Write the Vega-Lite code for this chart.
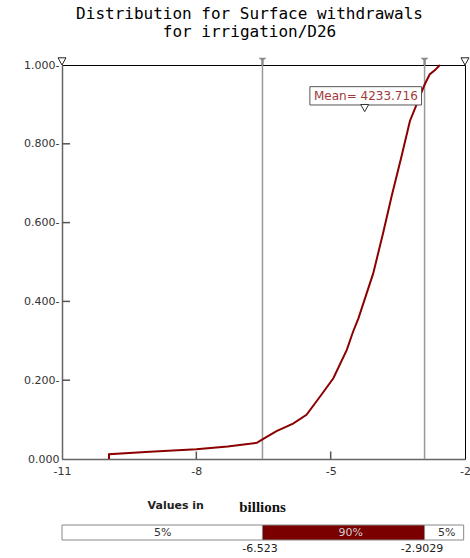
{
  "$schema": "https://vega.github.io/schema/vega-lite/v6.json",
  "padding": {"left": 23, "top": 5, "right": 0, "bottom": 4},
  "bounds": "flush",
  "spacing": 66,
  "config": {"view": {"stroke": "black", "strokeWidth": 1}, "font": "DejaVu Sans"},
  "vconcat": [
    {
      "width": 403,
      "height": 394,
      "title": {
        "text": ["Distribution for Surface withdrawals", "for irrigation/D26"],
        "font": "DejaVu Sans Mono",
        "fontSize": 16,
        "fontWeight": "normal",
        "color": "black",
        "anchor": "middle",
        "frame": "group",
        "dx": -14,
        "offset": 16,
        "lineHeight": 18
      },
      "layer": [
        {
          "data": {"values": [{"v": -6.523}, {"v": -2.9029}]},
          "mark": {"type": "rule", "color": "#9a9a9a", "strokeWidth": 1.5},
          "encoding": {
            "x": {"field": "v", "type": "quantitative", "scale": {"domain": [-11, -2], "nice": false, "zero": false},
              "axis": {
                "values": [-11, -8, -5, -2],
                "labelExpr": "datum.value < 0 ? '-' + abs(datum.value) : datum.label",
                "labelFont": "DejaVu Sans", "labelFontSize": 11, "labelColor": "#333",
                "labelFlush": false, "labelPadding": 6,
                "ticks": false, "domainColor": "#666", "domainWidth": 1.5,
                "grid": false, "title": null
              }
            }
          }
        },
        {
          "data": {"values": [{"v": -8, "a": 0, "b": 0.019}, {"v": -5, "a": 0, "b": 0.019}]},
          "mark": {"type": "rule", "color": "#555", "strokeWidth": 1.5},
          "encoding": {
            "x": {"field": "v", "type": "quantitative"},
            "y": {"field": "a", "type": "quantitative"},
            "y2": {"field": "b"}
          }
        },
        {
          "data": {"values": [
            {"a": -11, "b": -10.82, "p": 0.2}, {"a": -11, "b": -10.82, "p": 0.4},
            {"a": -11, "b": -10.82, "p": 0.6}, {"a": -11, "b": -10.82, "p": 0.8}
          ]},
          "mark": {"type": "rule", "color": "#555", "strokeWidth": 1.5},
          "encoding": {
            "x": {"field": "a", "type": "quantitative"},
            "x2": {"field": "b"},
            "y": {"field": "p", "type": "quantitative"}
          }
        },
        {
          "data": {"values": [
            {"x": -9.951, "p": 0.0}, {"x": -9.95, "p": 0.012}, {"x": -9.04, "p": 0.0186}, {"x": -8.0, "p": 0.025},
            {"x": -7.3, "p": 0.032}, {"x": -6.65, "p": 0.041}, {"x": -6.523, "p": 0.05}, {"x": -6.21, "p": 0.071},
            {"x": -5.84, "p": 0.09}, {"x": -5.54, "p": 0.112}, {"x": -5.24, "p": 0.158}, {"x": -4.94, "p": 0.205},
            {"x": -4.64, "p": 0.277}, {"x": -4.5, "p": 0.323}, {"x": -4.38, "p": 0.357}, {"x": -4.05, "p": 0.471},
            {"x": -3.83, "p": 0.573}, {"x": -3.64, "p": 0.666}, {"x": -3.42, "p": 0.767}, {"x": -3.23, "p": 0.858},
            {"x": -3.08, "p": 0.9}, {"x": -2.9029, "p": 0.95}, {"x": -2.79, "p": 0.976}, {"x": -2.67, "p": 0.987},
            {"x": -2.56, "p": 1.0}
          ]},
          "mark": {"type": "line", "color": "#8B0000", "strokeWidth": 2},
          "encoding": {
            "x": {"field": "x", "type": "quantitative"},
            "y": {"field": "p", "type": "quantitative", "scale": {"domain": [0, 1], "nice": false},
              "axis": {
                "values": [0, 0.2, 0.4, 0.6, 0.8, 1],
                "labelExpr": "datum.value == 0 ? format(datum.value, '.3f') + '\u00a0' : format(datum.value, '.3f') + '-'",
                "labelFont": "DejaVu Sans", "labelFontSize": 11, "labelColor": "#333",
                "labelFlush": false, "labelPadding": 3,
                "ticks": false, "domainColor": "#666", "domainWidth": 1.5,
                "grid": false, "title": null
              }
            }
          }
        },
        {
          "data": {"values": [{"v": -6.523, "p": 1}, {"v": -2.9029, "p": 1}]},
          "mark": {"type": "point", "shape": "M-1,-1.8L1,-1.8L0.3,-1.2L0.3,0L-0.3,0L-0.3,-1.2Z", "size": 64, "filled": true, "color": "#8a8a8a", "opacity": 1},
          "encoding": {
            "x": {"field": "v", "type": "quantitative"},
            "y": {"field": "p", "type": "quantitative"}
          }
        },
        {
          "data": {"values": [{"v": -11, "p": 1}, {"v": -2, "p": 1}]},
          "mark": {"type": "point", "shape": "M-1,-1.8L1,-1.8L0,0Z", "size": 64, "filled": false, "stroke": "#222", "fill": "white", "fillOpacity": 1, "strokeWidth": 1, "opacity": 1},
          "encoding": {
            "x": {"field": "v", "type": "quantitative"},
            "y": {"field": "p", "type": "quantitative"}
          }
        },
        {
          "data": {"values": [{"x1": -5.464, "x2": -2.971, "y1": 0.8985, "y2": 0.945}]},
          "mark": {"type": "rect", "fill": "white", "stroke": "#555", "strokeWidth": 1},
          "encoding": {
            "x": {"field": "x1", "type": "quantitative"},
            "x2": {"field": "x2"},
            "y": {"field": "y1", "type": "quantitative"},
            "y2": {"field": "y2"}
          }
        },
        {
          "data": {"values": [{"x": -4.24, "p": 0.8815}]},
          "mark": {"type": "point", "shape": "M-1,-1.8L1,-1.8L0,0Z", "size": 64, "filled": false, "stroke": "#333", "fill": "white", "fillOpacity": 1, "strokeWidth": 1, "opacity": 1},
          "encoding": {
            "x": {"field": "x", "type": "quantitative"},
            "y": {"field": "p", "type": "quantitative"}
          }
        },
        {
          "data": {"values": [{"x": -4.214, "p": 0.9215, "t": "Mean= 4233.716"}]},
          "mark": {"type": "text", "font": "DejaVu Sans", "fontSize": 12, "color": "#a03a3a", "align": "center", "baseline": "middle"},
          "encoding": {
            "x": {"field": "x", "type": "quantitative"},
            "y": {"field": "p", "type": "quantitative"},
            "text": {"field": "t"}
          }
        }
      ]
    },
    {
      "width": 403,
      "height": 15,
      "view": {"stroke": null},
      "layer": [
        {
          "data": {"values": [
            {"start": -11, "end": -6.523, "part": "tail"},
            {"start": -6.523, "end": -2.9029, "part": "mid"},
            {"start": -2.9029, "end": -2.03, "part": "tail"}
          ]},
          "mark": {"type": "rect", "stroke": "#888", "strokeWidth": 1},
          "encoding": {
            "x": {"field": "start", "type": "quantitative", "scale": {"domain": [-11, -2], "nice": false, "zero": false}, "axis": null},
            "x2": {"field": "end"},
            "fill": {"field": "part", "type": "nominal", "scale": {"domain": ["tail", "mid"], "range": ["white", "#7a0000"]}, "legend": null}
          }
        },
        {
          "data": {"values": [
            {"mid": -8.75, "label": "5%", "part": "tail"},
            {"mid": -4.55, "label": "90%", "part": "mid"},
            {"mid": -2.41, "label": "5%", "part": "tail"}
          ]},
          "mark": {"type": "text", "font": "DejaVu Sans", "fontSize": 11, "baseline": "middle"},
          "encoding": {
            "x": {"field": "mid", "type": "quantitative"},
            "text": {"field": "label"},
            "color": {"field": "part", "type": "nominal", "scale": {"domain": ["tail", "mid"], "range": ["#333", "#cfcfcf"]}, "legend": null}
          }
        },
        {
          "data": {"values": [{"v": -6.58, "label": "-6.523"}, {"v": -2.96, "label": "-2.9029"}]},
          "mark": {"type": "text", "font": "DejaVu Sans", "fontSize": 11, "color": "#222", "baseline": "middle", "dy": 16},
          "encoding": {
            "x": {"field": "v", "type": "quantitative"},
            "text": {"field": "label"}
          }
        },
        {
          "data": {"values": [{"x": -8.46, "t": "Values in"}]},
          "mark": {"type": "text", "font": "DejaVu Sans", "fontSize": 11, "fontWeight": "bold", "color": "#222", "baseline": "middle", "dy": -27},
          "encoding": {
            "x": {"field": "x", "type": "quantitative"},
            "text": {"field": "t"}
          }
        },
        {
          "data": {"values": [{"x": -6.52, "t": "billions"}]},
          "mark": {"type": "text", "font": "Liberation Serif", "fontSize": 15, "fontWeight": "bold", "color": "#111", "baseline": "middle", "dy": -26},
          "encoding": {
            "x": {"field": "x", "type": "quantitative"},
            "text": {"field": "t"}
          }
        }
      ],
      "resolve": {"scale": {"color": "independent"}}
    }
  ]
}
